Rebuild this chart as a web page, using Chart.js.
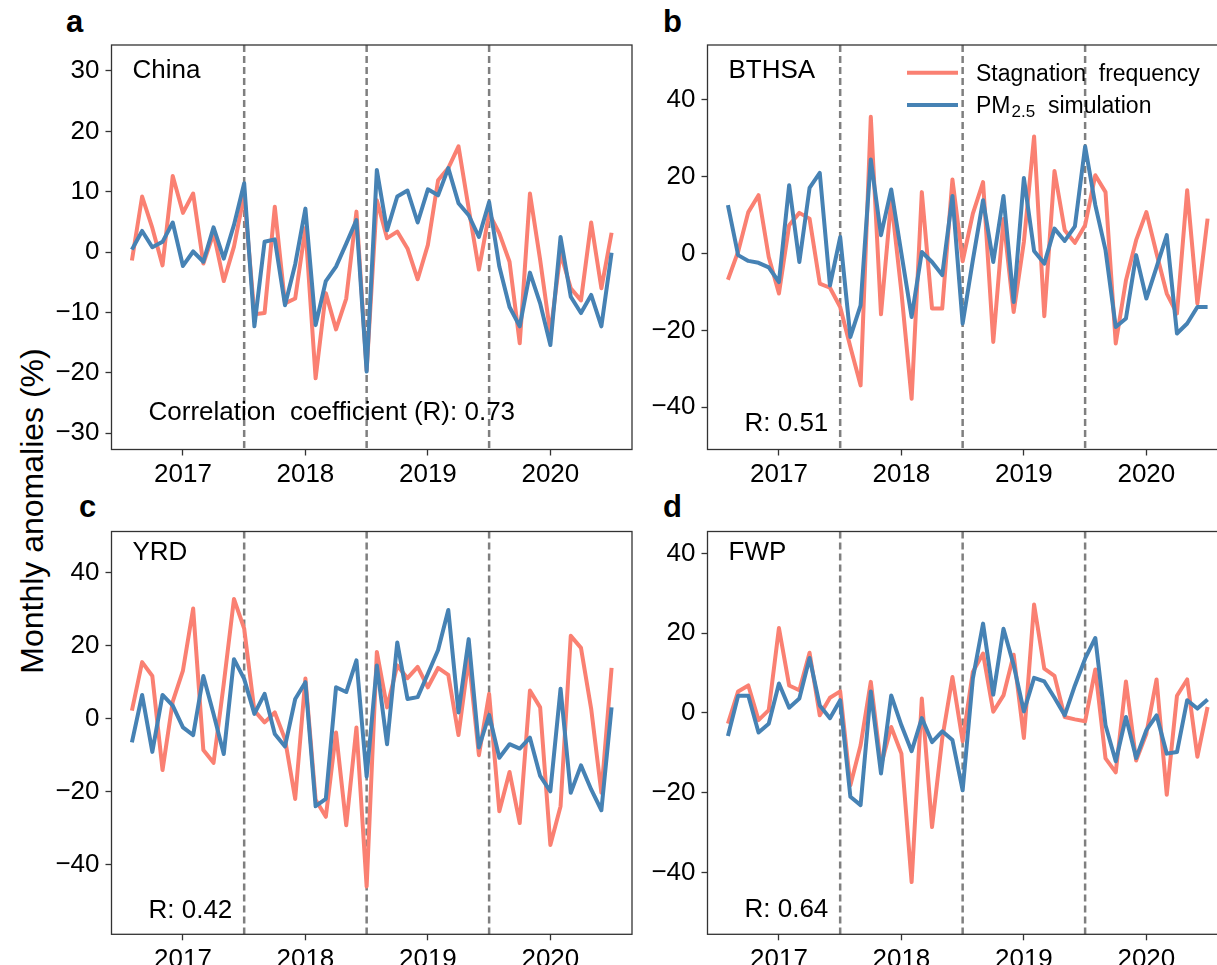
<!DOCTYPE html>
<html>
<head>
<meta charset="utf-8">
<script src="https://cdn.jsdelivr.net/npm/chart.js@4.4.0/dist/chart.umd.min.js"></script>
<style>
  html, body { margin: 0; padding: 0; background: #fff; }
  body { width: 1217px; height: 965px; overflow: hidden; position: relative;
         font-family: 'Liberation Sans', Arial, sans-serif; color: #000; }
  canvas { position: absolute; }
  .letter { position: absolute; font-weight: bold; font-size: 31px; line-height: 31px; }
  #ylabel { position: absolute; left: 32px; top: 511px; white-space: nowrap; font-size: 32px;
            transform: translate(-50%, -50%) rotate(-90deg); }
</style>
</head>
<body>
<div class="letter" style="left:66px;top:6px">a</div>
<div class="letter" style="left:663px;top:6px">b</div>
<div class="letter" style="left:79px;top:491px">c</div>
<div class="letter" style="left:663px;top:491px">d</div>
<div id="ylabel">Monthly anomalies (%)</div>

<canvas id="pa" width="650" height="482" style="left:0;top:0"></canvas>
<canvas id="pb" width="650" height="482" style="left:596px;top:0"></canvas>
<canvas id="pc" width="650" height="500" style="left:0;top:486px"></canvas>
<canvas id="pd" width="650" height="500" style="left:596px;top:486px"></canvas>

<script>
// months from Aug 2016 to Jul 2020, one point per month
const monthIndex = Array.from({ length: 48 }, (_, i) => i);
const yearTicks = [5, 17, 29, 41];
const yearLabels = ['2017', '2018', '2019', '2020'];
const halfYearLines = [11, 23, 35];

// a - China
const chinaStag = [-1.4, 9.2, 4.0, -2.2, 12.6, 6.5, 9.7, -1.9, 3.1, -4.8, 0.9, 9.5,
  -10.3, -10.1, 7.5, -8.5, -7.7, 4.0, -20.9, -6.8, -12.8, -7.7, 6.7, -19.6,
  8.6, 2.3, 3.4, 0.6, -4.5, 1.2, 11.9, 13.9, 17.5, 7.2, -2.9, 6.4,
  3.1, -1.6, -15.1, 9.7, -1.3, -13.5, -0.2, -6.0, -8.0, 4.9, -6.0, 3.2];
const chinaPM = [0.4, 3.5, 0.8, 1.7, 4.9, -2.3, 0.1, -1.6, 4.1, -1.1, 4.5, 11.4,
  -12.3, 1.7, 2.1, -8.8, -2.0, 7.2, -12.1, -4.8, -2.4, 1.4, 5.3, -19.8,
  13.6, 3.6, 9.2, 10.2, 4.9, 10.4, 9.4, 13.9, 8.1, 6.1, 2.5, 8.3,
  -2.4, -9.1, -12.3, -3.4, -8.5, -15.4, 2.5, -7.4, -10.1, -7.1, -12.3, -0.1];

// b - BTHSA
const bthsaStag = [-6.8, 0.5, 10.8, 15.2, -0.9, -10.4, 7.4, 10.6, 9.1, -7.8, -8.9, -13.9,
  -24.3, -34.3, 35.6, -15.8, 14, -10, -37.8, 16, -14.3, -14.3, 19.3, -2,
  10.4, 18.6, -23, 9, -15.2, 3, 30.5, -16.3, 21.5, 6.1, 2.8, 7.4,
  20.4, 16, -23.4, -7, 3.5, 10.8, 0, -10.4, -15.6, 16.5, -13, 9.1];
const bthsaPM = [12.6, -0.4, -1.9, -2.4, -3.6, -7.4, 17.8, -2.2, 17.1, 21, -8.3, 4.3,
  -21.7, -13.5, 24.5, 4.8, 16.7, 0, -16.5, 0.4, -2.2, -5.6, 15, -18.2,
  -1.7, 13.9, -2.2, 15, -12.6, 19.7, 0.7, -2.6, 6.5, 3.3, 7.1, 27.9,
  12.6, 0.9, -19.1, -16.9, -0.4, -11.7, -3.5, 4.8, -20.8, -18.2, -13.9, -13.9];

// c - YRD
const yrdStag = [2.2, 15.5, 11.7, -14.1, 4.7, 13.2, 30.2, -8.6, -12.1, 9.6, 32.8, 24.7,
  2.2, -1, 1.7, -5.6, -22, 11, -22.2, -26.9, -3.8, -29.2, -2.4, -46,
  18.3, 3.1, 14.6, 11.1, 14.2, 8.6, 13.9, 12, -4.5, 16.6, -10, 6.8,
  -25.4, -14.6, -28.6, 7.7, 3.1, -34.6, -24, 22.7, 19.4, 2.7, -20.3, 13.9];
const yrdPM = [-6.5, 6.5, -9.1, 6.5, 3.6, -2.4, -4.5, 11.7, 1.3, -9.7, 16.3, 10.9,
  1.3, 6.8, -4.2, -7.6, 5.4, 10, -24, -22, 8.6, 7.3, 16, -15.9,
  14.6, -7, 20.9, 5.4, 5.9, 12.3, 18.8, 29.8, 1.7, 21.8, -7.9, 1,
  -10.7, -7, -8.2, -5.2, -15.7, -19.9, 8.2, -20.3, -12.8, -19.4, -25.1, 3.1];

// d - FWP
const fwpStag = [-2.7, 5.4, 6.9, -1.8, 0.7, 21.3, 6.9, 5.7, 15.1, -0.6, 3.8, 5.4,
  -18.1, -8.1, 7.8, -13.1, -3.5, -10.2, -42.4, 3.6, -28.6, -6.4, 9, -7.1,
  10.3, 14.9, 0.3, 4.4, 14.6, -6.3, 27.2, 11.1, 9.3, -1, -1.6, -2.1,
  10.9, -11.4, -14.9, 7.9, -11.9, -5.2, 8.4, -20.5, 4.3, 8.4, -11, 1.5];
const fwpPM = [-5.8, 4.3, 4.3, -4.9, -2.7, 7.4, 1.3, 3.6, 13.8, 1.9, -1.3, 3.2,
  -21, -23.1, 5.4, -15.2, 4.4, -3.1, -9.6, -1.3, -7.3, -4.6, -6.8, -19.4,
  8.6, 22.4, 4.6, 21.1, 12, 0.4, 8.8, 7.9, 3.8, -0.6, 6.9, 13.6,
  18.8, -3.1, -12.1, -1, -11.3, -4.3, -0.6, -10.2, -9.8, 3.2, 1.1, 3.4];

const yTicksA = [-30, -20, -10, 0, 10, 20, 30];
const yTicks40 = [-40, -20, 0, 20, 40];

const SALMON = '#fa8072';
const STEEL = '#4682b4';
const FONT = "'Liberation Sans', Arial, sans-serif";
const SPINE = '#333333';

// dashed lines, frame, region name, R value and legend
const decor = {
  id: 'decor',
  beforeDatasetsDraw(chart) {
    const { ctx, chartArea: ca, scales: { x } } = chart;
    ctx.save();
    ctx.strokeStyle = '#7f7f7f';
    ctx.lineWidth = 2.5;
    ctx.setLineDash([7, 4]);
    halfYearLines.forEach(v => {
      const px = x.getPixelForValue(v);
      ctx.beginPath();
      ctx.moveTo(px, ca.top);
      ctx.lineTo(px, ca.bottom);
      ctx.stroke();
    });
    ctx.restore();
  },
  afterDraw(chart, args, o) {
    const { ctx, chartArea: ca } = chart;
    ctx.save();
    ctx.strokeStyle = SPINE;
    ctx.lineWidth = 1.3;
    ctx.strokeRect(ca.left, ca.top, ca.right - ca.left, ca.bottom - ca.top);

    ctx.fillStyle = '#000';
    ctx.textBaseline = 'alphabetic';
    ctx.font = '26px ' + FONT;
    ctx.fillText(o.name, ca.left + 21, ca.top + o.nameY);
    ctx.fillText(o.rText, ca.left + 37, ca.bottom - o.rY);

    if (o.legend) {
      const ds = chart.data.datasets;
      const lx = ca.left + 199.5, tx = ca.left + 268.5;
      const rows = [ca.top + 27.7, ca.top + 60];
      ctx.lineWidth = 4;
      ds.forEach((d, k) => {
        ctx.strokeStyle = d.borderColor;
        ctx.beginPath();
        ctx.moveTo(lx, rows[k]);
        ctx.lineTo(lx + 51, rows[k]);
        ctx.stroke();
      });
      ctx.font = '23px ' + FONT;
      ctx.fillText('Stagnation  frequency', tx, rows[0] + 8);
      ctx.fillText('PM', tx, rows[1] + 8);
      let w = ctx.measureText('PM').width;
      ctx.font = '17px ' + FONT;
      ctx.fillText('2.5', tx + w + 1, rows[1] + 12);
      w += ctx.measureText('2.5').width + 1;
      ctx.font = '23px ' + FONT;
      ctx.fillText('  simulation', tx + w, rows[1] + 8);
    }
    ctx.restore();
  }
};

function makePanel(id, stag, pm, yMin, yMax, yTicks, padTop, xAxisH, opts) {
  const tickFont = { family: FONT, size: 26 };
  return new Chart(document.getElementById(id), {
    type: 'line',
    data: {
      datasets: [
        { label: 'Stagnation frequency', data: stag.map((v, i) => ({ x: monthIndex[i], y: v })),
          borderColor: SALMON, borderWidth: 4, pointRadius: 0, tension: 0, order: 2,
          borderJoinStyle: 'round' },
        { label: 'PM2.5 simulation', data: pm.map((v, i) => ({ x: monthIndex[i], y: v })),
          borderColor: STEEL, borderWidth: 4, pointRadius: 0, tension: 0, order: 1,
          borderJoinStyle: 'round' }
      ]
    },
    options: {
      responsive: false,
      animation: false,
      devicePixelRatio: 1,
      layout: { padding: { top: padTop, right: 18, left: 0, bottom: 0 } },
      plugins: { legend: { display: false }, tooltip: { enabled: false }, decor: opts },
      scales: {
        x: {
          type: 'linear', min: -2, max: 49,
          border: { display: false },
          grid: { drawOnChartArea: false, drawTicks: true, tickLength: 6, tickColor: SPINE, tickWidth: 1.3 },
          ticks: { font: tickFont, color: '#000', padding: 4, maxRotation: 0, autoSkip: false,
                   callback: (v, i) => yearLabels[i] },
          afterBuildTicks: s => { s.ticks = yearTicks.map(v => ({ value: v })); },
          afterFit: s => { s.height = xAxisH; }
        },
        y: {
          type: 'linear', min: yMin, max: yMax,
          border: { display: false },
          grid: { drawOnChartArea: false, drawTicks: true, tickLength: 6, tickColor: SPINE, tickWidth: 1.3 },
          ticks: { font: tickFont, color: '#000', padding: 6,
                   callback: v => String(v).replace('-', '\u2212') },
          afterBuildTicks: s => { s.ticks = yTicks.map(v => ({ value: v })); },
          afterFit: s => { s.width = 111.5; }
        }
      }
    },
    plugins: [decor]
  });
}

makePanel('pa', chinaStag, chinaPM, -32.7, 34.3, yTicksA, 45, 32.5,
  { name: 'China', nameY: 32.8, rText: 'Correlation  coefficient (R): 0.73', rY: 29.5 });
makePanel('pb', bthsaStag, bthsaPM, -51.0, 54.3, yTicks40, 45, 32.5,
  { name: 'BTHSA', nameY: 32.8, rText: 'R: 0.51', rY: 18.8, legend: true });
makePanel('pc', yrdStag, yrdPM, -59.1, 51.3, yTicks40, 45.5, 51.7,
  { name: 'YRD', nameY: 28.6, rText: 'R: 0.42', rY: 16.6 });
makePanel('pd', fwpStag, fwpPM, -55.5, 45.5, yTicks40, 45.5, 51.7,
  { name: 'FWP', nameY: 28.6, rText: 'R: 0.64', rY: 17.6 });
</script>
</body>
</html>
